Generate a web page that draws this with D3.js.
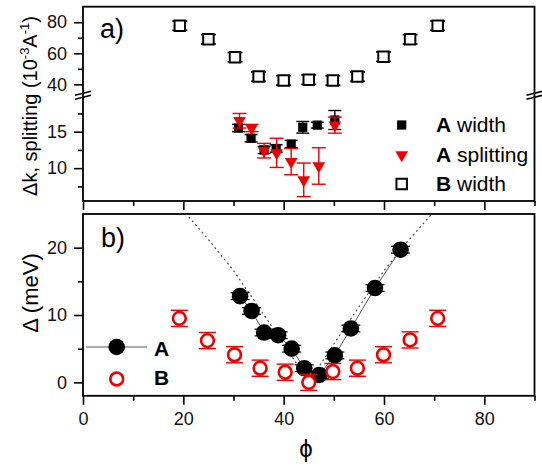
<!DOCTYPE html>
<html lang="en">
<head>
<meta charset="UTF-8">
<title>width and splitting vs phi</title>
<script src="https://cdn.jsdelivr.net/npm/d3@7"></script>
<style>
  body { margin: 0; background: #fff; }
  text { font-family: "Liberation Sans", Arial, sans-serif; }
</style>
</head>
<body>
<div id="chart"></div>
<script>
// ---- data ----
// panel a) B width (open squares)
var phiBw = [19.3, 25, 30.3, 35, 40, 45, 49.8, 54.7, 59.9, 65.2, 70.7];
var bWidth = [77.8, 69, 57.5, 45, 42.5, 43, 42.5, 45, 57.8, 69, 77.8];
var bWidthErr = [3, 3, 3, 3, 3, 3, 3, 3, 3, 3, 3];
// panel a) A width (filled squares)
var phiAw = [31, 33.5, 36.1, 38.5, 41.5, 43.8, 46.7, 50.2];
var aWidth = [15.5, 14.1, 12.5, 12.7, 13.3, 15.6, 15.9, 16.6];
var aWidthErr = [0.5, 0.5, 0.5, 0.5, 0.5, 0.8, 0.4, 1.3];
// panel a) A splitting (red triangles)
var phiAs = [31.2, 33.6, 36.1, 38.6, 41.5, 44, 47, 50.2];
var aSplit = [16.5, 15.5, 12.4, 12.1, 10.9, 8.4, 10.3, 15.9];
var aSplitErr = [1.0, 0.5, 1.0, 2.0, 1.8, 2.3, 2.5, 1.1];
// panel b) gap A (filled circles) and B (open circles)
var phiA = [31.3, 33.6, 36.1, 38.9, 41.6, 44.1, 47.1, 50.2, 53.4, 58.2, 63.3];
var deltaA = [12.8, 10.6, 7.4, 7.0, 5.0, 2.1, 1.1, 4.0, 8.0, 14.0, 19.7];
var deltaAErr = [0.5, 0.5, 0.5, 0.5, 0.5, 0.5, 0.5, 0.5, 0.5, 0.5, 0.5];
var phiB = [19.2, 24.8, 30.2, 35.3, 40.3, 45, 49.8, 54.7, 59.9, 65.2, 70.7];
var deltaB = [9.5, 6.2, 4.1, 2.1, 1.5, 0.0, 1.6, 2.1, 4.1, 6.3, 9.5];
var deltaBErr = [1.2, 1.2, 1.2, 1.2, 1.2, 1.2, 1.2, 1.2, 1.2, 1.2, 1.2];
// dotted guide curve in panel b)
var fitPhi = [18, 20.6, 25, 30, 35, 40, 45, 50, 55, 60, 65, 69.5, 72];
var fitDelta = [27.5, 25, 21.2, 16.6, 11.2, 5.7, 0, 5.7, 11.2, 16.6, 21.2, 25, 27.5];

var xTicksMajor = [0, 20, 40, 60, 80];
var xTicksMinor = [10, 30, 50, 70, 90];

var W = 542, H = 466;
var left = 83, right = 534.5;
var red = "#ee0000";

var svg = d3.select("#chart").append("svg")
    .attr("width", W).attr("height", H);

var x = d3.scaleLinear().domain([0, 90]).range([left, right]);

// panel a) broken y axis
var aTop = 6.7, aBreak = 95.2, aBottom = 201;
var yUp = d3.scaleLinear().domain([33, 90]).range([aBreak, aTop]);
var yLo = d3.scaleLinear().domain([5.5, 20]).range([aBottom, aBreak]);

// panel b)
var bTop = 214, bBottom = 395.8;
var yB = d3.scaleLinear().domain([-2, 25]).range([bBottom, bTop]);

function styleAxis(g) {
  g.select(".domain").remove();
  g.selectAll("line").attr("stroke", "#000").attr("stroke-width", 1.6);
  g.selectAll("text").attr("font-size", 18).attr("font-family", "Liberation Sans, Arial, sans-serif").attr("fill", "#111");
}

function yAxis(scale, major, minor) {
  svg.append("g").attr("transform", "translate(" + left + ",0)")
    .call(d3.axisLeft(scale).tickValues(major).tickSize(9).tickPadding(7).tickSizeOuter(0))
    .call(styleAxis);
  svg.append("g").attr("transform", "translate(" + left + ",0)")
    .call(d3.axisLeft(scale).tickValues(minor).tickSize(5).tickFormat("").tickSizeOuter(0))
    .call(styleAxis);
}

function xAxis(yPos, labels) {
  var g = svg.append("g").attr("transform", "translate(0," + yPos + ")")
    .call(d3.axisBottom(x).tickValues(xTicksMajor).tickSize(9).tickPadding(7).tickSizeOuter(0));
  if (!labels) g.selectAll("text").remove();
  g.call(styleAxis);
  svg.append("g").attr("transform", "translate(0," + yPos + ")")
    .call(d3.axisBottom(x).tickValues(xTicksMinor).tickSize(5).tickFormat("").tickSizeOuter(0))
    .call(styleAxis);
}

yAxis(yUp, [40, 60, 80], [50, 70]);
yAxis(yLo, [10, 15], [7.5, 12.5, 17.5]);
yAxis(yB, [0, 10, 20], [5, 15]);
xAxis(aBottom, false);
xAxis(bBottom, true);

// frames
svg.append("rect").attr("x", left).attr("y", aTop)
  .attr("width", right - left).attr("height", aBottom - aTop)
  .attr("fill", "none").attr("stroke", "#000").attr("stroke-width", 1.8);
svg.append("rect").attr("x", left).attr("y", bTop)
  .attr("width", right - left).attr("height", bBottom - bTop)
  .attr("fill", "none").attr("stroke", "#000").attr("stroke-width", 1.8);

// axis break marks
[left, right].forEach(function(bx) {
  [-2, 2].forEach(function(o) {
    svg.append("line")
      .attr("x1", bx - 8).attr("y1", aBreak + o + 2)
      .attr("x2", bx + 8).attr("y2", aBreak + o - 2)
      .attr("stroke", "#000").attr("stroke-width", 1.6);
  });
});

// error bar helper
function errBars(xs, ys, es, yScale, cap, color, width) {
  svg.append("g").selectAll("g").data(xs).join("g").each(function(d, i) {
    var g = d3.select(this);
    var cx = x(d), y1 = yScale(ys[i] - es[i]), y2 = yScale(ys[i] + es[i]);
    g.append("line").attr("x1", cx).attr("x2", cx).attr("y1", y1).attr("y2", y2)
      .attr("stroke", color).attr("stroke-width", width);
    [y1, y2].forEach(function(yy) {
      g.append("line").attr("x1", cx - cap / 2).attr("x2", cx + cap / 2)
        .attr("y1", yy).attr("y2", yy).attr("stroke", color).attr("stroke-width", width);
    });
  });
}

var sq = d3.symbol().type(d3.symbolSquare);
var tri = d3.symbol().type(d3.symbolTriangle);

// ---- panel a) ----
errBars(phiBw, bWidth, bWidthErr, yUp, 15, "#000", 1.6);
svg.append("g").selectAll("path").data(phiBw).join("path")
  .attr("d", sq.size(110)())
  .attr("transform", function(d, i) { return "translate(" + x(d) + "," + yUp(bWidth[i]) + ")"; })
  .attr("fill", "#fff").attr("stroke", "#000").attr("stroke-width", 2);

errBars(phiAw, aWidth, aWidthErr, yLo, 13, "#000", 1.4);
svg.append("g").selectAll("path").data(phiAw).join("path")
  .attr("d", sq.size(85)())
  .attr("transform", function(d, i) { return "translate(" + x(d) + "," + yLo(aWidth[i]) + ")"; })
  .attr("fill", "#000");

errBars(phiAs, aSplit, aSplitErr, yLo, 14, red, 1.4);
svg.append("g").selectAll("path").data(phiAs).join("path")
  .attr("d", tri.size(70)())
  .attr("transform", function(d, i) { return "translate(" + x(d) + "," + yLo(aSplit[i]) + ") rotate(180)"; })
  .attr("fill", red);

svg.append("text").attr("x", 100).attr("y", 38).attr("font-size", 27).text("a)");

// legend a)
var legA = [
  { y: 125, label: "A", rest: " width" },
  { y: 155, label: "A", rest: " splitting" },
  { y: 184, label: "B", rest: " width" }
];
svg.append("path").attr("d", sq.size(85)()).attr("transform", "translate(401.7,125)").attr("fill", "#000");
svg.append("path").attr("d", tri.size(70)()).attr("transform", "translate(401.7,155) rotate(180)").attr("fill", red);
svg.append("path").attr("d", sq.size(110)()).attr("transform", "translate(401.7,184)")
  .attr("fill", "#fff").attr("stroke", "#000").attr("stroke-width", 2);
legA.forEach(function(l) {
  var t = svg.append("text").attr("x", 436).attr("y", l.y + 7).attr("font-size", 21);
  t.append("tspan").attr("font-weight", "bold").text(l.label);
  t.append("tspan").text(l.rest);
});

// y title a)
var ta = svg.append("text")
  .attr("transform", "translate(37,106) rotate(-90)")
  .attr("text-anchor", "middle").attr("font-size", 20);
ta.append("tspan").text("\u0394k, splitting (10");
ta.append("tspan").attr("font-size", 13).attr("dy", -8).text("-3");
ta.append("tspan").attr("dy", 8).text("A");
ta.append("tspan").attr("font-size", 13).attr("dy", -8).text("-1");
ta.append("tspan").attr("dy", 8).text(")");

// ---- panel b) ----
svg.append("clipPath").attr("id", "clipB").append("rect")
  .attr("x", left).attr("y", bTop).attr("width", right - left).attr("height", bBottom - bTop);

var fitLine = d3.line().x(function(d) { return x(d); }).y(function(d, i) { return yB(fitDelta[i]); });
svg.append("path").attr("d", fitLine(fitPhi)).attr("clip-path", "url(#clipB)")
  .attr("fill", "none").attr("stroke", "#444").attr("stroke-width", 1.1).attr("stroke-dasharray", "2,3");

var aLine = d3.line().x(function(d) { return x(d); }).y(function(d, i) { return yB(deltaA[i]); });
svg.append("path").attr("d", aLine(phiA))
  .attr("fill", "none").attr("stroke", "#555").attr("stroke-width", 1);

errBars(phiA, deltaA, deltaAErr, yB, 19, "#000", 1.2);
svg.append("g").selectAll("circle").data(phiA).join("circle")
  .attr("cx", function(d) { return x(d); })
  .attr("cy", function(d, i) { return yB(deltaA[i]); })
  .attr("r", 8.3).attr("fill", "#000");

errBars(phiB, deltaB, deltaBErr, yB, 17, red, 1.4);
svg.append("g").selectAll("circle").data(phiB).join("circle")
  .attr("cx", function(d) { return x(d); })
  .attr("cy", function(d, i) { return yB(deltaB[i]); })
  .attr("r", 6.4).attr("fill", "#fff").attr("stroke", red).attr("stroke-width", 2.6);

svg.append("text").attr("x", 101).attr("y", 247).attr("font-size", 27).text("b)");

// legend b)
svg.append("line").attr("x1", 86).attr("x2", 147).attr("y1", 347).attr("y2", 347)
  .attr("stroke", "#555").attr("stroke-width", 1);
svg.append("circle").attr("cx", 116.7).attr("cy", 347).attr("r", 8.3).attr("fill", "#000");
svg.append("text").attr("x", 154).attr("y", 356).attr("font-size", 21).attr("font-weight", "bold").text("A");
svg.append("circle").attr("cx", 116.7).attr("cy", 379).attr("r", 6.4)
  .attr("fill", "#fff").attr("stroke", red).attr("stroke-width", 2.6);
svg.append("text").attr("x", 154).attr("y", 385).attr("font-size", 21).attr("font-weight", "bold").text("B");

// titles b)
svg.append("text").attr("transform", "translate(38,293) rotate(-90)")
  .attr("text-anchor", "middle").attr("font-size", 22).text("\u0394 (meV)");
svg.append("text").attr("x", 306).attr("y", 457).attr("text-anchor", "middle")
  .attr("font-size", 24).attr("font-family", "Liberation Serif, serif").text("\u03d5");
</script>
</body>
</html>
